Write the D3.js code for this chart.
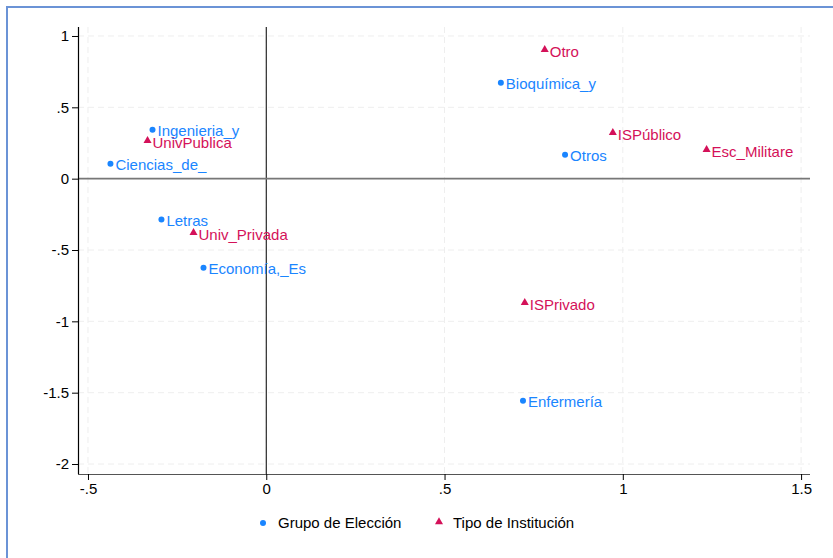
<!DOCTYPE html>
<html><head><meta charset="utf-8">
<script src="https://cdn.jsdelivr.net/npm/d3@7"></script>
<style>body{margin:0;background:#fff}svg{display:block}text{font-family:"Liberation Sans",Arial,sans-serif}</style>
</head><body><svg id="c" width="833" height="558"></svg>
<script>
const grupoLabels = ["Ingenieria_y","Ciencias_de_","Letras","Economía,_Es","Bioquímica_y","Otros","Enfermería"];
const grupoX = [-0.319,-0.437,-0.294,-0.176,0.658,0.838,0.72];
const grupoY = [0.343,0.105,-0.287,-0.624,0.673,0.168,-1.556];
const tipoLabels = ["Otro","UnivPublica","Univ_Privada","ISPúblico","Esc_Militare","ISPrivado"];
const tipoX = [0.781,-0.333,-0.204,0.972,1.235,0.725];
const tipoY = [0.904,0.266,-0.378,0.322,0.203,-0.869];
const xTicks = [-0.5,0,0.5,1,1.5];
const yTicks = [1,0.5,0,-0.5,-1,-1.5,-2];
const legendLabels = ["Grupo de Elección","Tipo de Institución"];
const blue = "#1a85ff", red = "#d41159";
const FS = 15;

const svg = d3.select("#c");
svg.append("rect").attr("x",7).attr("y",7).attr("width",900).attr("height",700)
  .attr("fill","none").attr("stroke","#6b93d6").attr("stroke-width",2);

const x = d3.scaleLinear().domain([-0.528,1.525]).range([78,810]);
const y = d3.scaleLinear().domain([-2.07,1.063]).range([474,27]);
const fmt = d => d===0?"0":String(d).replace("0.",".").replace("-0.","-.");

// grid
const g = svg.append("g");
g.selectAll(".gx").data(xTicks).join("line").attr("x1",d=>x(d)).attr("x2",d=>x(d))
  .attr("y1",27).attr("y2",474).attr("stroke","#eeeeee").attr("stroke-dasharray","6,4");
g.selectAll(".gy").data(yTicks).join("line").attr("y1",d=>y(d)).attr("y2",d=>y(d))
  .attr("x1",78).attr("x2",810).attr("stroke","#eeeeee").attr("stroke-dasharray","6,4");

// reference lines
svg.append("line").attr("x1",x(0)).attr("x2",x(0)).attr("y1",27).attr("y2",474).attr("stroke","#000").attr("stroke-width",1);
svg.append("line").attr("x1",78).attr("x2",810).attr("y1",y(0)).attr("y2",y(0)).attr("stroke","#777").attr("stroke-width",1.6);

// axes
const xa = svg.append("g").attr("transform","translate(0,474)")
  .call(d3.axisBottom(x).tickValues(xTicks).tickFormat(fmt).tickSize(6).tickPadding(3));
const ya = svg.append("g").attr("transform","translate(78,0)")
  .call(d3.axisLeft(y).tickValues(yTicks).tickFormat(fmt).tickSize(6).tickPadding(3));
[xa,ya].forEach(a=>{a.selectAll("text").attr("font-size",FS).attr("fill","#000").attr("font-family","Liberation Sans, Arial, sans-serif");
  a.select(".domain").attr("stroke","#000").attr("stroke-width",1.2);
  a.selectAll(".tick line").attr("stroke","#000");});
xa.select(".domain").attr("d","M78,0.5H810").attr("stroke","#555");
ya.select(".domain").attr("d","M0.5,27V474");

const grupo = grupoLabels.map((l,i)=>({l,x:grupoX[i],y:grupoY[i]}));
const tipo = tipoLabels.map((l,i)=>({l,x:tipoX[i],y:tipoY[i]}));
const tri = d3.symbol().type(d3.symbolTriangle).size(28);

svg.selectAll(".gp").data(grupo).join("circle").attr("cx",d=>x(d.x)).attr("cy",d=>y(d.y)).attr("r",3).attr("fill",blue);
svg.selectAll(".gl").data(grupo).join("text").attr("x",d=>x(d.x)+5).attr("y",d=>y(d.y)+6)
  .attr("font-size",FS).attr("fill",blue).text(d=>d.l);
svg.selectAll(".tp").data(tipo).join("path").attr("d",tri).attr("transform",d=>`translate(${x(d.x)},${y(d.y)})`).attr("fill",red);
svg.selectAll(".tl").data(tipo).join("text").attr("x",d=>x(d.x)+5).attr("y",d=>y(d.y)+7)
  .attr("font-size",FS).attr("fill",red).text(d=>d.l);

// legend
const lg = svg.append("g");
lg.append("circle").attr("cx",263).attr("cy",523).attr("r",3).attr("fill",blue);
lg.append("text").attr("x",278).attr("y",528).attr("font-size",FS).attr("fill","#000").text(legendLabels[0]);
lg.append("path").attr("d",tri).attr("transform","translate(439,522)").attr("fill",red);
lg.append("text").attr("x",453).attr("y",528).attr("font-size",FS).attr("fill","#000").text(legendLabels[1]);
</script></body></html>
